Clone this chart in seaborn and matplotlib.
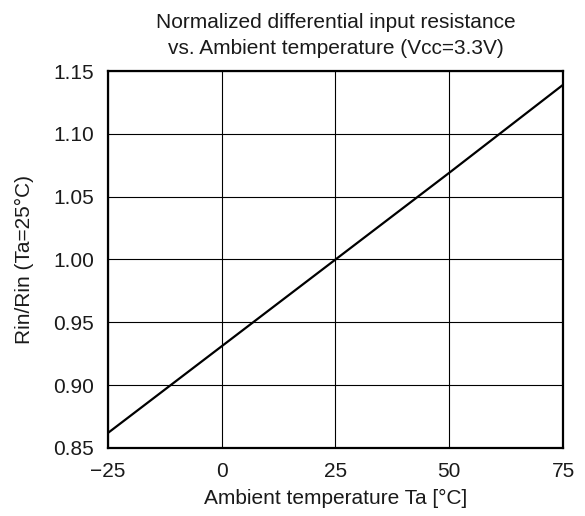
import numpy as np
import pandas as pd
import matplotlib
matplotlib.use("Agg")
import matplotlib.pyplot as plt
import seaborn as sns
from matplotlib.ticker import MultipleLocator

# Values
temps = [-25, 0, 25, 50, 75]
rin_norm = [0.862, 0.931, 1.000, 1.069, 1.139]

x_ticks = [-25, 0, 25, 50, 75]
x_labels = ["\u221225", "0", "25", "50", "75"]
y_ticks = [0.85, 0.90, 0.95, 1.00, 1.05, 1.10, 1.15]

df = pd.DataFrame({"Ta": temps, "Rin": rin_norm})

sns.set_style("white")
plt.rcParams['font.family'] = ['Liberation Sans', 'DejaVu Sans']

fig = plt.figure(figsize=(5.85, 5.16), dpi=100)
ax = fig.add_axes([0.1846, 0.1318, 0.7778, 0.7306])

sns.lineplot(data=df, x="Ta", y="Rin", ax=ax, color="black", linewidth=1.6)

ax.set_xlim(-25, 75)
ax.set_ylim(0.85, 1.15)
ax.set_xticks(x_ticks)
ax.set_xticklabels(x_labels)
ax.set_yticks(y_ticks)
ax.set_yticklabels([f"{v:.2f}" for v in y_ticks])
ax.yaxis.set_minor_locator(MultipleLocator(0.025))

ax.grid(True, which="major", color="black", linewidth=0.8)
ax.tick_params(which="major", length=0, labelsize=15, colors="#1a1a1a")
ax.tick_params(which="major", axis="x", pad=10)
ax.tick_params(which="major", axis="y", pad=10)
ax.tick_params(which="minor", axis="y", direction="in", length=6, width=0.8, color="black")
for s in ax.spines.values():
    s.set_color("black")
    s.set_linewidth(1.6)

ax.set_xlabel("Ambient temperature Ta [\u00b0C]", fontsize=15, color="#1a1a1a", labelpad=6)
ax.set_ylabel("Rin/Rin (Ta=25\u00b0C)", fontsize=15, color="#1a1a1a", labelpad=14)
ax.set_title("Normalized differential input resistance\nvs. Ambient temperature (Vcc=3.3V)",
             fontsize=15, color="#1a1a1a", pad=12, linespacing=1.5)

fig.savefig("out.png", dpi=100)
